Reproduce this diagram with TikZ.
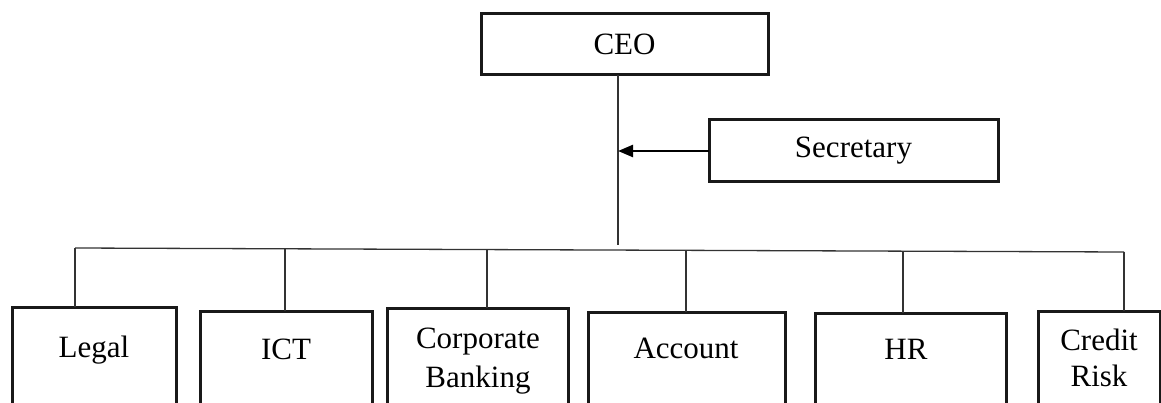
\documentclass[tikz,border=0pt]{standalone}
\usepackage{fontspec}
\setmainfont{Liberation Serif}
\usetikzlibrary{arrows.meta}
\begin{document}
\begin{tikzpicture}[x=1pt,y=-1pt,
  box/.style={draw=black!90,line width=3pt,rectangle,outer sep=0pt,inner sep=0pt,anchor=north west},
  lbl/.style={anchor=base,font=\fontsize{31}{39}\selectfont,inner sep=0pt,align=center},
  conn/.style={draw=black!80,line width=1.3pt},
  arr/.style={draw=black,line width=2.4pt,-{Triangle[length=15pt,width=12pt]}}]
\useasboundingbox (0,0) rectangle (1161,403);
\clip (0,0) rectangle (1161,403);
\fill[white] (0,0) rectangle (1161,403);
% top boxes
\node[box,minimum width=287pt,minimum height=61pt,font=\fontsize{31}{39}\selectfont] (ceo) at (481,14) {CEO};
\node[box,minimum width=289pt,minimum height=62pt,font=\fontsize{31}{39}\selectfont] (sec) at (709,120) {Secretary};
% department boxes (cut by the bottom edge)
\node[box,minimum width=164pt,minimum height=200pt] (legal) at (12,307) {};
\node[box,minimum width=172pt,minimum height=200pt] (ict) at (200,311) {};
\node[box,minimum width=181pt,minimum height=200pt] (corp) at (387,308) {};
\node[box,minimum width=197pt,minimum height=200pt] (acc) at (588,312) {};
\node[box,minimum width=191pt,minimum height=200pt] (hr) at (815,313) {};
\node[box,minimum width=122pt,minimum height=200pt] (cred) at (1038,311) {};
% labels
\node[lbl] (tlegal) at (94,357) {Legal};
\node[lbl] (tict) at (286,359) {ICT};
\node[lbl] (tcorp) at (478,348) {Corporate};
\node[lbl] (tcorp2) at (478,387) {Banking};
\node[lbl] (tacc) at (686,358) {Account};
\node[lbl] (thr) at (906,359) {HR};
\node[lbl] (tcred) at (1099,350) {Credit};
\node[lbl] (tcred2) at (1099,386) {Risk};
% connectors
\coordinate (bus) at (618,245);
\coordinate (d1) at (75,248);
\coordinate (d2) at (285,248.8);
\coordinate (d3) at (487,249.6);
\coordinate (d4) at (686,250.3);
\coordinate (d5) at (903,251.1);
\coordinate (d6) at (1124,252);
\draw[conn] (ceo.south -| bus) -- (bus);
\draw[conn] (d1) -- (d6);
\draw[conn] (d1) -- (d1 |- legal.north);
\draw[conn] (d2) -- (d2 |- ict.north);
\draw[conn] (d3) -- (d3 |- corp.north);
\draw[conn] (d4) -- (d4 |- acc.north);
\draw[conn] (d5) -- (d5 |- hr.north);
\draw[conn] (d6) -- (d6 |- cred.north);
\draw[arr] (sec.west) -- (sec.west -| bus);
\end{tikzpicture}
\end{document}
